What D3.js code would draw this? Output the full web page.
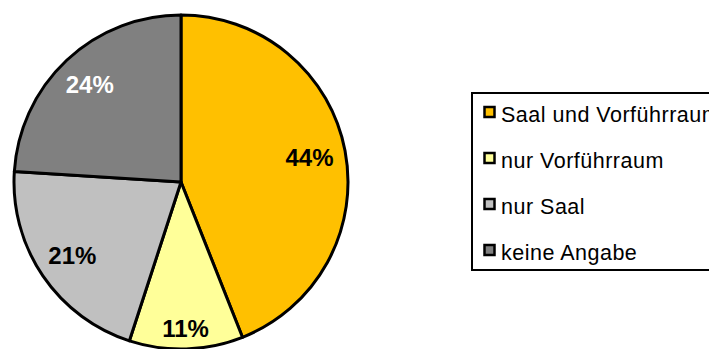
<!DOCTYPE html>
<html><head><meta charset="utf-8">
<script src="https://cdn.jsdelivr.net/npm/d3@7"></script>
<style>html,body{margin:0;padding:0;background:#fff;overflow:hidden}</style>
</head><body>
<svg id="c" width="709" height="349"></svg>
<script>
const categories = ["Saal und Vorführraum", "nur Vorführraum", "nur Saal", "keine Angabe"];
const values = [44, 11, 21, 24];
const labels = ["44%", "11%", "21%", "24%"];
const colors = ["#FFC000", "#FFFF99", "#C0C0C0", "#808080"];
const labelColors = ["#000", "#000", "#000", "#fff"];

const svg = d3.select("#c");
const cx = 181, cy = 182, r = 167, inset = 11;
const pie = d3.pie().sort(null).value(d => d)(values);
const arc = d3.arc().innerRadius(0).outerRadius(r);

const g = svg.append("g").attr("transform", `translate(${cx},${cy})`);
g.selectAll("path").data(pie).join("path")
  .attr("d", arc)
  .attr("fill", (d, i) => colors[i])
  .attr("stroke", "#000").attr("stroke-width", 3).attr("stroke-linejoin", "round");

g.selectAll("text").data(pie).join("text")
  .attr("text-anchor", "middle").attr("dominant-baseline", "central")
  .attr("font-family", "Liberation Sans, Arial, sans-serif")
  .attr("font-weight", "bold").attr("font-size", 24)
  .attr("fill", (d, i) => labelColors[i])
  .text((d, i) => labels[i])
  .attr("transform", function(d) {
    const bb = this.getBBox();
    const hw = bb.width / 2, hh = 8.5;
    const a = (d.startAngle + d.endAngle) / 2;
    const ux = Math.sin(a), uy = -Math.cos(a);
    const reach = Math.abs(ux) * hw + Math.abs(uy) * hh;
    const rr = r - inset - reach;
    return `translate(${ux * rr},${uy * rr})`;
  });

// legend
const lx = 472, ly = 93, lw = 260, lh = 177;
svg.append("rect").attr("x", lx).attr("y", ly).attr("width", lw).attr("height", lh)
  .attr("fill", "#fff").attr("stroke", "#000").attr("stroke-width", 2);
const ly0 = 112, step = 46;
const items = svg.append("g").selectAll("g").data(categories).join("g")
  .attr("transform", (d, i) => `translate(0,${ly0 + i * step})`);
items.append("rect").attr("x", 484.5).attr("y", -5).attr("width", 10).attr("height", 10)
  .attr("fill", (d, i) => colors[i]).attr("stroke", "#000").attr("stroke-width", 2.5);
items.append("text").attr("x", 501).attr("y", 3)
  .attr("dominant-baseline", "central")
  .attr("font-family", "Liberation Sans, Arial, sans-serif").attr("font-size", 21.5)
  .attr("letter-spacing", 0.5)
  .attr("fill", "#000").text(d => d);
</script>
</body></html>
